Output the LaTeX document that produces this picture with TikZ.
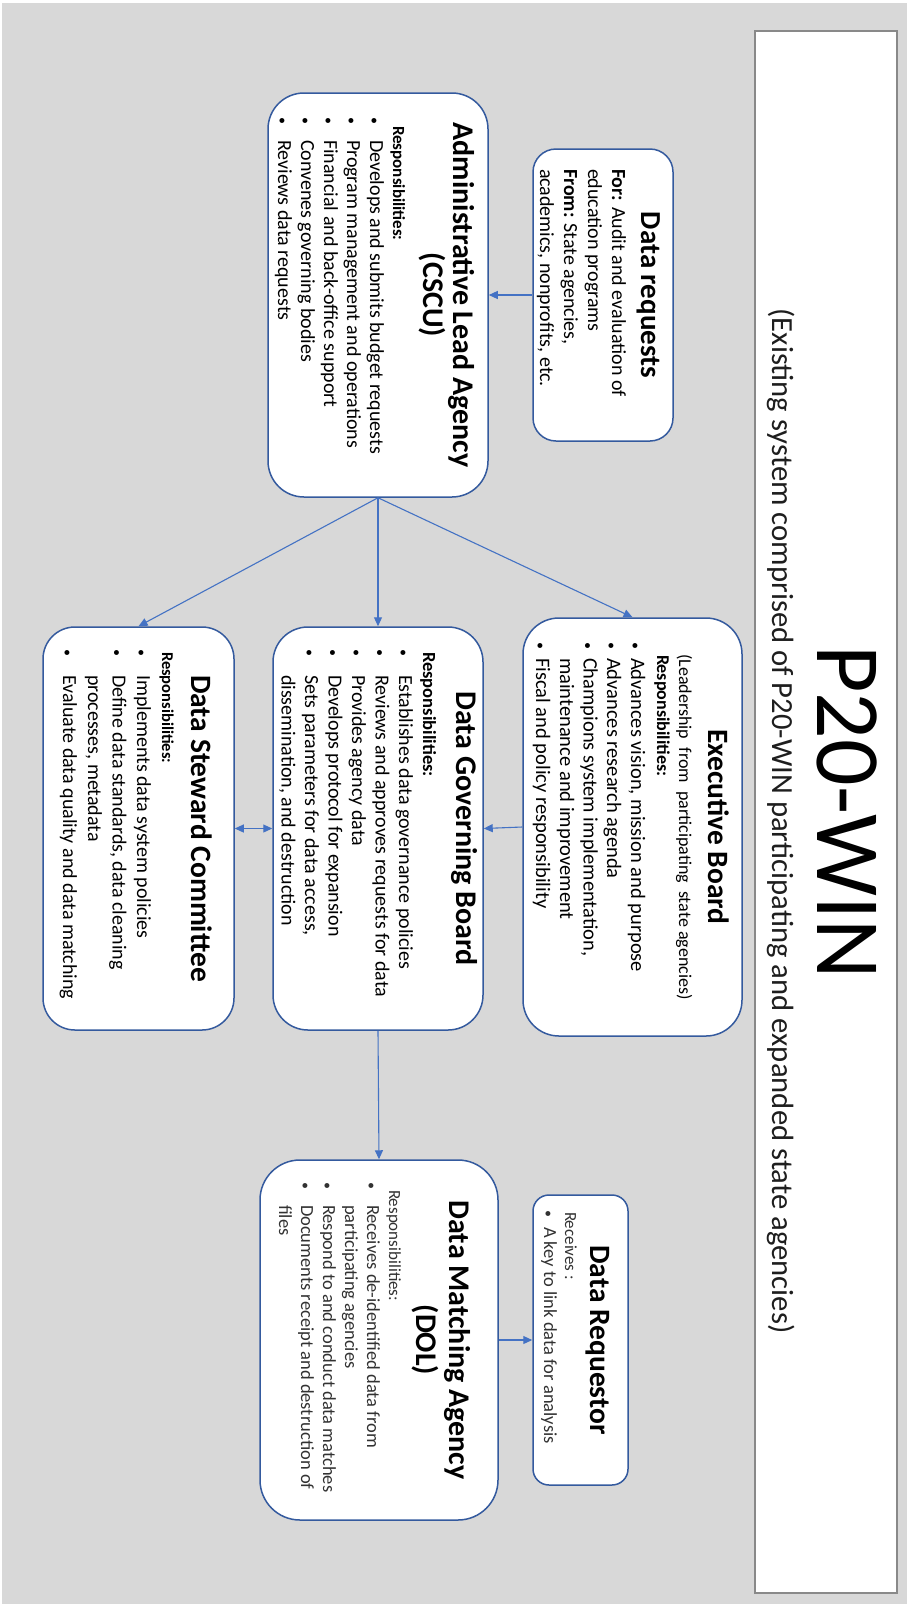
\documentclass[tikz,border=0pt]{standalone}
\usepackage{fontspec}
\setmainfont{Carlito}
\usetikzlibrary{arrows.meta}
\definecolor{bg}{RGB}{216,216,216}
\definecolor{boxblue}{RGB}{52,90,158}
\definecolor{arrblue}{RGB}{68,114,196}
\definecolor{tgray}{RGB}{137,137,137}
\definecolor{bodygray}{RGB}{50,50,50}
\definecolor{subgray}{RGB}{30,30,30}
\newcommand\BoxContent[3]{\parbox[c][#2][t]{#1}{\lineskiplimit=-1000pt\relax\lineskip=0pt\relax #3}}
\newcommand\TitleLn[3]{{\leftskip=0pt plus 1fil\rightskip=0pt plus 1fil\parfillskip=0pt\fontsize{#1}{#2}\selectfont\bfseries\rule{0pt}{#2pt}#3\par}}
\newcommand\PlainLn[4]{{\leftskip=#3pt\relax\rightskip=-200pt plus 1fil\relax\fontsize{#1}{#2}\selectfont\rule{0pt}{#2pt}#4\par}}
\newcommand\SmallBul{{\fontsize{14}{14}\selectfont\textbullet}}
\newcommand\BulLn[5]{{\leftskip=#4pt\relax\rightskip=-200pt plus 1fil\relax\fontsize{#1}{#2}\selectfont\rule{0pt}{#2pt}\llap{\makebox[\dimexpr#4pt-#3pt\relax][l]{\SmallBul}}#5\par}}
\begin{document}
\begin{tikzpicture}[x=1pt,y=1pt,
  card/.style={draw=boxblue, line width=1.5pt, fill=white, inner sep=0pt, rotate=-90},
  conn/.style={draw=arrblue, line width=1.1pt, -{Triangle[length=9pt,width=8pt]}},
  conntwo/.style={draw=arrblue, line width=1.1pt, {Triangle[length=9pt,width=8pt]}-{Triangle[length=9pt,width=8pt]}}]
\fill[white] (0,0) rectangle (907,-1604);
\useasboundingbox (0,0) rectangle (907,-1604);
\fill[bg] (1.5,-3) rectangle (907,-1604);

% title box
\node[draw=tgray, line width=1.5pt, fill=white, inner sep=0pt, rotate=-90] (title) at (826,-812)
 {\BoxContent{1562pt}{142pt}{%
  \TitleLn{92}{80}{\mdseries P20-WIN}%
  \TitleLn{30.7}{45}{\mdseries\color{subgray}\hspace*{18pt}(Existing system comprised of P20-WIN participating and expanded state agencies)}}};

% Data requests
\node[card, rounded corners=23pt] (dreq) at (603,-295)
 {\BoxContent{292pt}{140pt}{%
  \TitleLn{29}{32}{Data requests}%
  \PlainLn{20}{29}{20}{\textbf{For:} Audit and evaluation of}%
  \PlainLn{20}{24}{20}{education programs}%
  \PlainLn{20}{24}{20}{\textbf{From:} State agencies,}%
  \PlainLn{20}{24}{20}{academics, nonprofits, etc.}}};

% Administrative Lead Agency
\node[card, rounded corners=36pt] (admin) at (378,-295)
 {\BoxContent{404pt}{220pt}{%
  \TitleLn{30}{35}{Administrative Lead Agency}%
  \TitleLn{30}{30}{(CSCU)}%
  \PlainLn{17}{30}{33}{\textbf{Responsibilities:}}%
  \BulLn{20}{23}{24}{47}{Develops and submits budget requests}%
  \BulLn{20}{23}{24}{47}{Program management and operations}%
  \BulLn{20}{23}{24}{47}{Financial and back-office support}%
  \BulLn{20}{23}{24}{47}{Convenes governing bodies}%
  \BulLn{20}{23}{24}{47}{Reviews data requests}}};

% Executive Board
\node[card, rounded corners=36pt] (exec) at (632.5,-827)
 {\BoxContent{418pt}{219pt}{%
  \TitleLn{29.5}{34}{Executive Board}%
  \TitleLn{18}{29}{\mdseries (Leadership~ from~ participating~ state agencies)}%
  \PlainLn{18}{22}{37}{\textbf{Responsibilities:}}%
  \BulLn{20.5}{26}{24}{40}{Advances vision, mission and purpose}%
  \BulLn{20.5}{24}{24}{40}{Advances research agenda}%
  \BulLn{20.5}{23.5}{24}{40}{Champions system implementation,\\maintenance and improvement}%
  \BulLn{20.5}{24}{24}{40}{Fiscal and policy responsibility}}};

% Data Governing Board
\node[card, rounded corners=35pt] (dgb) at (378,-828.5)
 {\BoxContent{403pt}{210pt}{%
  \TitleLn{30}{27}{Data Governing Board}%
  \PlainLn{18.5}{33}{25}{\textbf{Responsibilities:}}%
  \BulLn{20}{24}{22}{48}{Establishes data governance policies}%
  \BulLn{20}{23.5}{22}{48}{Reviews and approves requests for data}%
  \BulLn{20}{23.5}{22}{48}{Provides agency data}%
  \BulLn{20}{23.5}{22}{48}{Develops protocol for expansion}%
  \BulLn{20}{23.5}{22}{48}{Sets parameters for data access,\\dissemination, and destruction}}};

% Data Steward Committee
\node[card, rounded corners=32pt] (dsc) at (138.5,-828.5)
 {\BoxContent{403pt}{191pt}{%
  \TitleLn{29.5}{43}{Data Steward Committee}%
  \PlainLn{16.5}{29}{25}{\textbf{Responsibilities:}}%
  \BulLn{20}{25}{22}{48}{Implements data system policies}%
  \BulLn{20}{24.5}{22}{48}{Define data standards, data cleaning\\processes, metadata}%
  \BulLn{20}{25}{22}{48}{Evaluate data quality and data matching}}};

% Data Matching Agency
\node[card, rounded corners=40pt] (dma) at (379,-1340)
 {\BoxContent{360pt}{238pt}{%
  \TitleLn{30}{49}{Data Matching Agency}%
  \TitleLn{30}{33}{(DOL)}%
  \color{bodygray}%
  \PlainLn{17}{27}{30}{Responsibilities:}%
  \BulLn{18.5}{22}{22}{45}{Receives de-identified data from\\participating agencies}%
  \BulLn{18.5}{22}{22}{45}{Respond to and conduct data matches}%
  \BulLn{18.5}{22}{22}{45}{Documents receipt and destruction of\\files}}};

% Data Requestor
\node[card, rounded corners=16pt] (dreqr) at (580.5,-1340)
 {\BoxContent{290pt}{95pt}{%
  \TitleLn{29.5}{38}{Data Requestor}%
  \color{bodygray}%
  \PlainLn{17}{25}{17}{Receives :}%
  \BulLn{18.5}{21}{15}{32}{A key to link data for analysis}}};

% connectors
\draw[conn] (dreq.south) -- (admin.north);
\draw[conn] (admin.east) -- (exec.west);
\draw[conn] (admin.east) -- (dgb.west);
\draw[conn] (admin.east) -- (dsc.west);
\draw[conn] (exec.south) -- (dgb.north);
\draw[conntwo] (dsc.north) -- (dgb.south);
\draw[conn] (dgb.east) -- (dma.west);
\draw[conn] (dma.north) -- (dreqr.south);
\end{tikzpicture}
\end{document}
